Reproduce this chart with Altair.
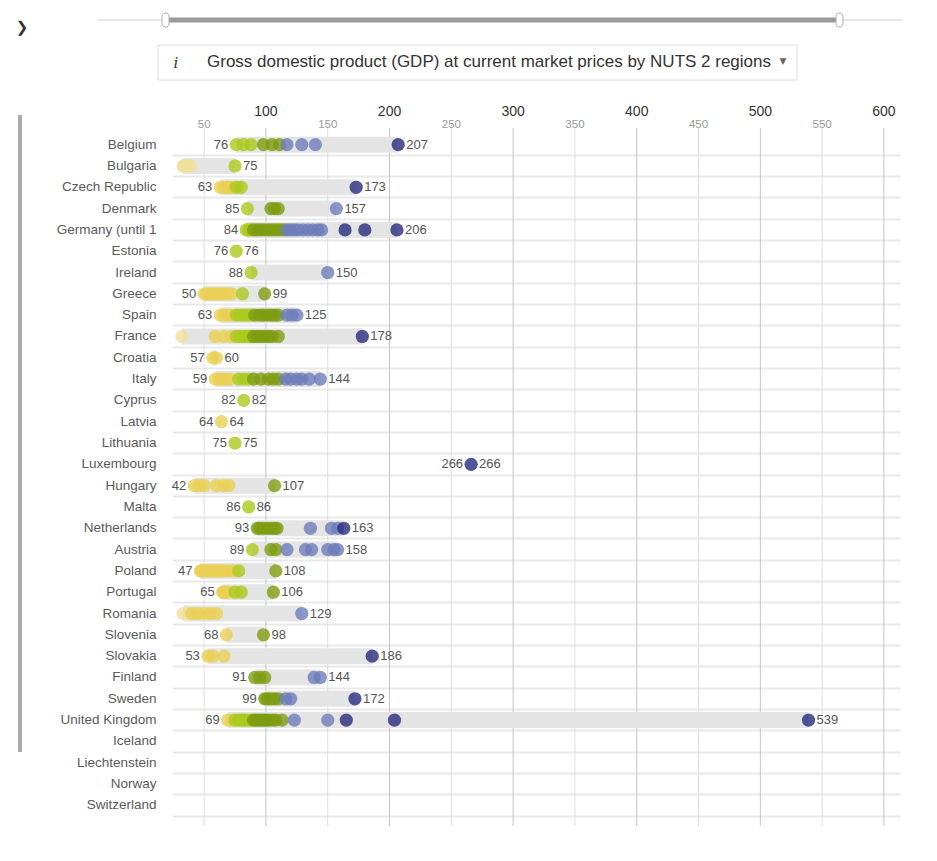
import altair as alt
import pandas as pd

countries = ["Belgium", "Bulgaria", "Czech Republic", "Denmark", "Germany (until 1",
             "Estonia", "Ireland", "Greece", "Spain", "France", "Croatia", "Italy",
             "Cyprus", "Latvia", "Lithuania", "Luxembourg", "Hungary", "Malta",
             "Netherlands", "Austria", "Poland", "Portugal", "Romania", "Slovenia",
             "Slovakia", "Finland", "Sweden", "United Kingdom", "Iceland",
             "Liechtenstein", "Norway", "Switzerland"]

belgium = [76, 82, 88, 98, 105, 111, 117, 129, 140, 207]
bulgaria = [33, 34, 35, 37, 39, 75]
czech = [63, 66, 68, 70, 72, 76, 80, 173]
denmark = [85, 104, 107, 110, 157]
germany = [84, 86, 88, 90, 93, 96, 99, 102, 105, 108, 111, 114, 117, 120, 123, 126,
           130, 134, 138, 142, 145, 164, 180, 206]
estonia = [76]
ireland = [88, 150]
greece = [50, 52, 55, 57, 59, 62, 64, 66, 69, 72, 81, 99]
spain = [63, 66, 69, 72, 76, 79, 82, 85, 88, 91, 95, 98, 101, 104, 107, 110, 117, 121, 125]
france = [32, 59, 66, 72, 76, 79, 82, 84, 86, 88, 90, 93, 96, 99, 102, 105, 110, 178]
croatia = [57, 60]
italy = [59, 62, 65, 68, 71, 78, 82, 86, 90, 96, 102, 106, 110, 116, 120, 125, 129, 135, 144]
cyprus = [82]
latvia = [64]
lithuania = [75]
luxembourg = [266]
hungary = [42, 46, 50, 60, 66, 70, 107]
malta = [86]
netherlands = [93, 95, 98, 101, 104, 107, 109, 136, 153, 158, 163]
austria = [89, 104, 108, 117, 132, 137, 150, 155, 158]
poland = [47, 48, 50, 52, 54, 56, 58, 60, 62, 64, 66, 70, 74, 78, 108]
portugal = [65, 66, 67, 70, 75, 80, 106]
romania = [33, 37, 40, 45, 50, 55, 60, 129]
slovenia = [68, 98]
slovakia = [53, 57, 66, 186]
finland = [91, 95, 99, 139, 144]
sweden = [99, 101, 104, 107, 110, 116, 120, 172]
united_kingdom = [69, 72, 75, 78, 80, 82, 84, 86, 88, 90, 92, 94, 96, 98, 100, 102, 105,
                  108, 113, 123, 150, 165, 204, 539]
iceland = []
liechtenstein = []
norway = []
switzerland = []

series = [belgium, bulgaria, czech, denmark, germany, estonia, ireland, greece, spain,
          france, croatia, italy, cyprus, latvia, lithuania, luxembourg, hungary, malta,
          netherlands, austria, poland, portugal, romania, slovenia, slovakia, finland,
          sweden, united_kingdom, iceland, liechtenstein, norway, switzerland]

major_ticks = [100, 200, 300, 400, 500, 600]
minor_ticks = [50, 150, 250, 350, 450, 550]

title_text = "Gross domestic product (GDP) at current market prices by NUTS 2 regions"

# ---- tables built from the arrays ----
pts = pd.DataFrame([{"country": c, "value": v} for c, vals in zip(countries, series) for v in vals])
rng = pd.DataFrame([{"country": c, "lo": min(vals), "hi": max(vals)}
                    for c, vals in zip(countries, series) if vals])
lo_lab = rng[rng["lo"] >= 40].copy()
ticks = pd.DataFrame([{"t": t, "kind": "major"} for t in major_ticks] +
                     [{"t": t, "kind": "minor"} for t in minor_ticks])

FONT = "Liberation Sans"
xs = alt.Scale(domain=[24, 613], nice=False, zero=False)
ys = alt.Scale(domain=countries, paddingInner=0, paddingOuter=0)
yenc = alt.Y("country:N", scale=ys, sort=countries, title=None,
             axis=alt.Axis(labelFontSize=13.5, labelColor="#5a5a5a", labelFont=FONT,
                           ticks=False, domain=False, labelPadding=16,
                           grid=True, gridColor="#e9e9e9", gridWidth=2, bandPosition=1))

grid = alt.Chart(ticks).mark_rule().encode(
    x=alt.X("t:Q", scale=xs, axis=None),
    y=alt.value(-6), y2=alt.value(692),
    color=alt.Color("kind:N", scale=alt.Scale(domain=["major", "minor"], range=["#c4c4c4", "#dedede"]), legend=None),
)
major_lab = alt.Chart(ticks[ticks["kind"] == "major"]).mark_text(
    fontSize=14, color="#333", font=FONT, baseline="middle").encode(
    x=alt.X("t:Q", scale=xs), y=alt.value(-22), text="t:Q")
minor_lab = alt.Chart(ticks[ticks["kind"] == "minor"]).mark_text(
    fontSize=11.5, color="#9a9a9a", font=FONT, baseline="middle").encode(
    x=alt.X("t:Q", scale=xs), y=alt.value(-9), text="t:Q")

bars = alt.Chart(rng).mark_bar(size=16, color="#e4e4e4").encode(
    x=alt.X("lo:Q", scale=xs), x2="hi:Q", y=yenc)

dots = alt.Chart(pts).mark_circle(size=175, opacity=0.8).encode(
    x=alt.X("value:Q", scale=xs), y=yenc,
    color=alt.Color("value:Q", legend=None,
                    scale=alt.Scale(type="threshold", domain=[40, 75, 90, 115, 160],
                                    range=["#f0e09c", "#eacf55", "#abc91d", "#7d9c10", "#6d7dba", "#272b7c"])))

lo_text = alt.Chart(lo_lab).mark_text(align="right", dx=-8, fontSize=13, color="#555", font=FONT).encode(
    x=alt.X("lo:Q", scale=xs), y=yenc, text="lo:Q")
hi_text = alt.Chart(rng).mark_text(align="left", dx=8, fontSize=13, color="#555", font=FONT).encode(
    x=alt.X("hi:Q", scale=xs), y=yenc, text="hi:Q")

# ---- page decorations (header controls) ----
one = pd.DataFrame({"k": [0]})
base = alt.Chart(one)
chevron = base.mark_text(text="❯", fontSize=15, color="#333", font="DejaVu Sans").encode(
    x=alt.value(-150), y=alt.value(-107))
track = base.mark_rule(color="#e6e6e6", strokeWidth=2).encode(
    x=alt.value(-75), x2=alt.value(731), y=alt.value(-114))
track_sel = base.mark_rule(color="#9a9a9a", strokeWidth=5).encode(
    x=alt.value(-7), x2=alt.value(668), y=alt.value(-114))
h1 = base.mark_rect(fill="white", stroke="#b0b0b0", cornerRadius=3).encode(
    x=alt.value(-10), x2=alt.value(-3), y=alt.value(-121), y2=alt.value(-107))
h2 = base.mark_rect(fill="white", stroke="#b0b0b0", cornerRadius=3).encode(
    x=alt.value(664), x2=alt.value(671), y=alt.value(-121), y2=alt.value(-107))
box = base.mark_rect(fill="white", stroke="#dcdcdc").encode(
    x=alt.value(-14), x2=alt.value(625), y=alt.value(-89), y2=alt.value(-54))
info = base.mark_text(text="i", fontSize=15, fontStyle="italic", color="#333", font="DejaVu Serif").encode(
    x=alt.value(4), y=alt.value(-71))
title = base.mark_text(text=title_text, fontSize=17, color="#333", font=FONT, align="left").encode(
    x=alt.value(35), y=alt.value(-72))
tri = base.mark_text(text="▼", fontSize=9, color="#666", font="DejaVu Sans").encode(
    x=alt.value(611), y=alt.value(-73))
sidebar = base.mark_rule(color="#aaaaaa", strokeWidth=4).encode(
    x=alt.value(-152), y=alt.value(-19), y2=alt.value(618))

chart = alt.layer(grid, major_lab, minor_lab, bars, dots, lo_text, hi_text,
                  chevron, track, track_sel, h1, h2, box, info, title, tri, sidebar).properties(
    width=728, height=682,
    autosize=alt.AutoSizeParams(type="none"),
    padding={"left": 164, "top": 126, "right": 20, "bottom": 30},
).configure_view(stroke=None)

chart.save("out.html", embed_options={"renderer": "svg", "actions": False})
